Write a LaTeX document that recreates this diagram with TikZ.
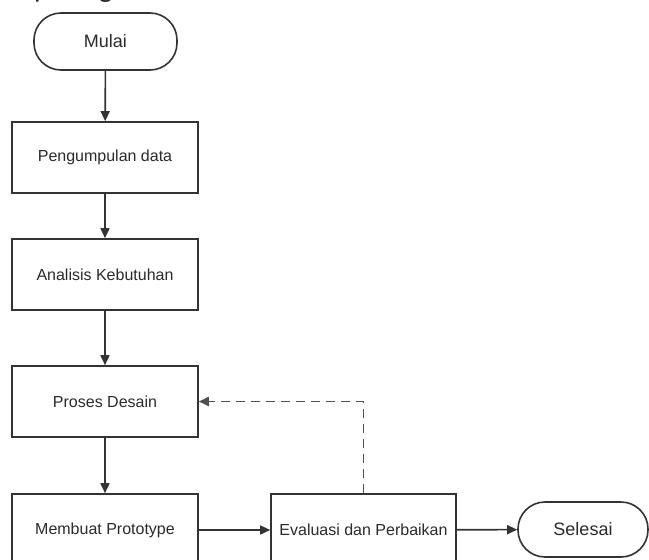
\documentclass[tikz,border=0pt]{standalone}
\usepackage{fontspec}
\setmainfont{Liberation Sans}
\newfontfamily\bodyfont{Carlito}
\usetikzlibrary{arrows.meta}

\definecolor{garis}{HTML}{333333}
\definecolor{putus}{HTML}{4F4F4F}
\definecolor{tulisan}{HTML}{2A2A2A}

\tikzset{
  proses/.style={draw=garis, line width=1.6pt, rectangle, minimum width=186pt,
    minimum height=71pt, inner sep=0pt, text=tulisan, font=\fontsize{16}{19}\selectfont},
  terminal/.style={draw=garis, line width=1.6pt, rectangle, rounded corners=27pt,
    inner sep=0pt, text=tulisan, font=\fontsize{18}{21}\selectfont},
  alur/.style={draw=garis, line width=1.6pt, -{Triangle[length=10pt,width=9pt]}},
  balik/.style={draw=putus, line width=1.8pt, dash pattern=on 9pt off 6pt,
    -{Triangle[length=10pt,width=9pt]}}
}

\begin{document}
\begin{tikzpicture}[x=1pt,y=-1pt]
\useasboundingbox (0,0) rectangle (649,560);
\clip (0,0) rectangle (649,560);

% potongan teks di atas gambar
\node[anchor=base west, inner sep=0pt, text=black!85, font=\bodyfont\fontsize{29}{32}\selectfont]
  (keterangan) at (12,-3) {o pada gambar 3.1 berikut.};

% simpul
\node[terminal, minimum width=143pt, minimum height=57pt] (mulai) at (105.5,41.5) {Mulai};
\node[proses] (kumpul) at (105,157.5) {Pengumpulan data};
\node[proses] (analisis) at (105,274.5) {Analisis Kebutuhan};
\node[proses] (desain) at (105,401.5) {Proses Desain};
\node[proses, minimum height=72pt] (prototipe) at (105,530) {Membuat Prototype};
\node[proses, minimum width=185pt, minimum height=72pt] (evaluasi) at (363.5,530) {Evaluasi dan Perbaikan};
\node[terminal, minimum width=130pt, minimum height=55pt] (selesai) at (583,529.5) {Selesai};

% alur
\draw[alur] (mulai) -- (kumpul);
\draw[alur] (kumpul) -- (analisis);
\draw[alur] (analisis) -- (desain);
\draw[alur] (desain) -- (prototipe);
\draw[alur] (prototipe) -- (evaluasi);
\draw[alur] (evaluasi) -- (selesai);

% umpan balik
\draw[balik] (evaluasi.north) -- (evaluasi.north |- desain.east) -- (desain.east);
\end{tikzpicture}
\end{document}
